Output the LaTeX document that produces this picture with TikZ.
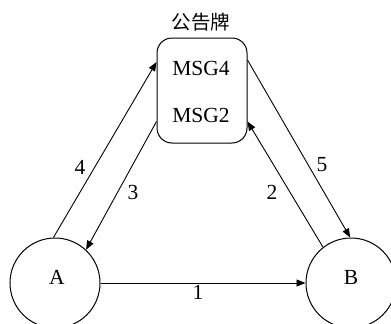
\documentclass[tikz,border=0pt]{standalone}
\usepackage{fontspec}
\setmainfont{Liberation Serif}
\newfontfamily\cjk{Noto Sans CJK SC}
\usetikzlibrary{arrows.meta}
\begin{document}
\begin{tikzpicture}[x=1pt,y=-1pt,
  every node/.style={font=\fontsize{21.5}{24}\selectfont},
  peer/.style={draw,circle,minimum size=90pt,inner sep=0pt,line width=1pt},
  board/.style={draw,rounded corners=15pt,minimum width=90pt,minimum height=105pt,line width=1pt},
  msg/.style={-{Triangle[length=9pt,width=7pt]},line width=0.9pt},
  lbl/.style={inner sep=0pt}]
\useasboundingbox (0,0) rectangle (391,324);
\node[peer] (A) at (55,283) {};
\node at (57,277) (Atext) {A};
\node[peer] (B) at (351,283) {};
\node at (351,277) (Btext) {B};
\node[board] (box) at (202,90.5) {};
\node (title) at (201,22) {\cjk\fontsize{19.5}{22}\selectfont 公告牌};
\node (m4) at (201,68) {MSG4};
\node (m2) at (201,115) {MSG2};
\draw[msg] (A.east) -- (B.west);
\draw[msg] (A.92) -- ([yshift=28.5pt]box.west);
\draw[msg] ([yshift=-31pt]box.west) -- (A.47);
\draw[msg] (B.128) -- ([yshift=-31pt]box.east);
\draw[msg] ([yshift=30.5pt]box.east) -- (B.91);
\node[lbl] (l1) at (198,292) {1};
\node[lbl] (l2) at (272,192) {2};
\node[lbl] (l3) at (133,192) {3};
\node[lbl] (l4) at (80,167) {4};
\node[lbl] (l5) at (322,165) {5};
\end{tikzpicture}
\end{document}
